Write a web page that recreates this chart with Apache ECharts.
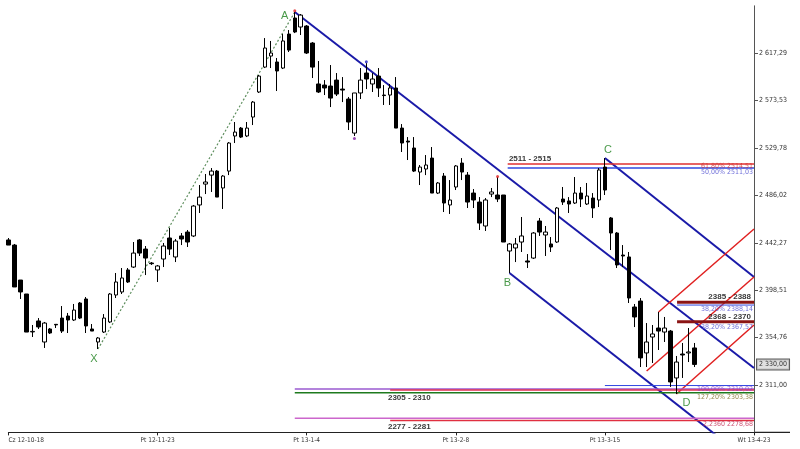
<!DOCTYPE html>
<html><head><meta charset="utf-8">
<script src="https://cdn.jsdelivr.net/npm/echarts@6/dist/echarts.min.js"></script>
<style>html,body{margin:0;padding:0;background:#fff}#c{width:800px;height:449px}</style>
</head><body><div id="c"></div>
<script>
// ---- data ----
const tickLabels = ['Cz 12-10-18','Pt 12-11-23','Pt 13-1-4','Pt 13-2-8','Pt 13-3-15','Wt 13-4-23'];
const barsPerTick = 25;
const yTicks = [2311.00, 2354.76, 2398.51, 2442.27, 2486.02, 2529.78, 2573.53, 2617.29];

const open = [2444.9,2440.2,2407.9,2395.0,2360.0,2370.1,2350.7,2362.7,2367.0,2372.8,
2374.7,2371.0,2386.7,2390.4,2362.7,2350.7,2359.9,2369.2,2394.1,2396.9,
2417.2,2419.9,2444.9,2436.5,2423.6,2417.2,2427.3,2446.7,2429.2,2448.6,
2452.2,2448.6,2477.2,2496.5,2504.8,2508.5,2492.9,2508.5,2540.9,2548.2,
2540.9,2558.4,2581.5,2604.5,2614.7,2609.2,2603.6,2635.0,2649.8,2641.5,
2642.4,2626.7,2588.9,2587.9,2587.0,2592.5,2584.2,2575.0,2543.6,2580.6,
2599.0,2588.9,2596.2,2578.7,2578.7,2585.2,2548.2,2536.2,2529.8,2507.6,
2510.4,2520.5,2488.2,2503.9,2477.2,2493.8,2515.9,2504.8,2488.2,2479.9,
2457.8,2487.3,2486.4,2486.4,2434.7,2437.5,2443.0,2425.5,2428.2,2462.4,
2449.5,2441.2,2443.0,2482.7,2480.9,2479.0,2488.2,2478.1,2483.6,2481.8,
2512.2,2465.2,2451.3,2431.0,2429.2,2383.0,2388.5,2340.6,2355.3,2363.6,
2359.9,2360.8,2317.5,2339.6,2340.6,2345.2];
const close = [2440.2,2401.5,2396.9,2359.9,2360.5,2364.6,2368.2,2359.0,2366.5,2360.8,
2371.0,2380.2,2372.8,2365.5,2360.8,2354.4,2372.8,2395.0,2406.1,2409.8,
2406.1,2432.8,2432.8,2428.2,2423.0,2420.9,2439.3,2436.5,2443.9,2445.8,
2443.0,2476.2,2484.5,2498.4,2508.5,2484.5,2503.9,2534.4,2544.5,2539.9,
2548.2,2572.2,2596.2,2622.1,2617.5,2600.9,2628.6,2620.2,2636.9,2652.5,
2617.5,2604.5,2581.5,2585.2,2575.9,2579.6,2583.3,2553.8,2580.6,2592.5,
2593.5,2593.5,2585.2,2578.2,2585.2,2548.2,2534.4,2535.3,2508.5,2512.2,
2514.1,2488.2,2497.5,2479.0,2481.8,2513.2,2507.6,2479.9,2481.8,2460.5,
2481.8,2489.2,2482.7,2443.0,2441.2,2441.2,2448.6,2424.5,2451.3,2452.2,
2452.2,2438.4,2474.4,2479.9,2478.1,2488.2,2482.7,2485.5,2474.4,2509.5,
2491.0,2451.3,2421.8,2430.1,2391.3,2373.8,2336.0,2350.7,2358.1,2360.8,
2363.6,2313.8,2332.2,2338.7,2341.5,2330.0];
const low = [2440.2,2401.5,2390.4,2359.9,2355.3,2362.7,2345.2,2358.1,2363.6,2359.0,
2359.0,2370.1,2371.9,2359.0,2360.8,2344.2,2359.0,2368.2,2391.3,2395.0,
2405.2,2419.0,2430.1,2412.5,2421.8,2406.1,2419.9,2431.0,2424.5,2440.2,
2438.4,2447.6,2469.8,2487.3,2489.2,2484.5,2473.5,2504.8,2534.4,2539.0,
2539.9,2551.0,2580.6,2603.6,2603.6,2582.4,2602.7,2618.4,2635.9,2634.1,
2616.6,2594.4,2580.6,2578.7,2567.6,2577.8,2572.2,2546.4,2540.9,2575.0,
2584.2,2581.5,2576.9,2569.5,2569.5,2548.2,2526.1,2518.7,2507.6,2495.6,
2504.8,2488.2,2487.3,2470.7,2468.9,2491.0,2500.2,2474.4,2474.4,2454.1,
2453.2,2484.5,2479.9,2443.0,2414.4,2424.5,2433.8,2419.0,2427.3,2448.6,
2430.1,2433.8,2442.1,2477.2,2469.8,2478.1,2475.3,2477.2,2465.2,2475.3,
2486.4,2435.6,2419.0,2419.9,2386.7,2364.5,2327.6,2327.6,2331.3,2343.3,
2350.7,2309.2,2302.7,2317.5,2332.2,2327.6];
const high = [2446.7,2441.2,2407.9,2395.0,2366.4,2372.8,2369.2,2363.6,2367.3,2383.9,
2377.5,2385.8,2387.6,2392.2,2367.3,2355.3,2376.5,2395.9,2414.4,2419.0,
2419.0,2443.0,2445.8,2439.3,2424.5,2421.8,2442.1,2456.0,2445.8,2451.3,
2454.1,2477.2,2495.6,2505.8,2511.3,2509.5,2504.8,2535.3,2553.8,2549.2,
2553.8,2573.2,2597.2,2631.3,2628.6,2612.9,2635.0,2638.7,2655.3,2653.5,
2643.3,2627.6,2610.1,2592.5,2606.4,2599.0,2595.3,2576.9,2580.6,2603.6,
2608.2,2599.0,2603.6,2587.9,2588.9,2595.3,2551.9,2539.9,2539.9,2514.1,
2523.3,2530.7,2498.4,2506.7,2500.2,2514.1,2520.5,2507.6,2491.9,2484.5,
2483.6,2492.9,2503.0,2486.4,2442.1,2446.7,2466.1,2431.9,2452.2,2465.2,
2457.8,2447.6,2475.3,2493.8,2484.5,2503.0,2493.8,2497.5,2488.2,2511.3,
2520.5,2466.1,2452.2,2440.2,2433.8,2385.8,2391.3,2368.2,2366.4,2378.4,
2373.8,2361.8,2337.8,2349.8,2363.6,2349.8];

// drawings: [barIndex, price]
const dotXA     = [[15, 2344.2], [48, 2655.3]];
const trendA    = [[48, 2655.3], [125, 2326.7]];
const trendB    = [[84, 2414.4], [125, 2237.2]];
const trendC    = [[100, 2520.5], [125, 2410.7]];
const redUpper  = [[109, 2378.4], [125, 2455.0]];
const redMiddle = [[107, 2323.9], [125, 2410.7]];
const redLower  = [[112, 2302.7], [125, 2366.4]];
// horizontal levels: [startIndex, price, color, width]
const levels = [
  [83.7, 2515.0, '#e03030', 1.5],
  [83.7, 2511.3, '#3048e0', 1.5],
  [112.1, 2387.5, '#8b1414', 3],
  [112.1, 2384.8, '#3048e0', 1],
  [112.1, 2369.3, '#8b1414', 3],
  [100, 2310.5, '#3048e0', 1],
  [48, 2307.3, '#9a5ad0', 1.5],
  [64, 2306.4, '#e03050', 1.5],
  [48, 2303.9, '#1e7a1e', 1.5],
  [48, 2280.3, '#cc66cc', 1.5],
  [64, 2278.2, '#e03040', 1.5]
];
const pivots = [['X', 15, 2344.2], ['A', 48, 2655.3], ['B', 84, 2414.4], ['C', 100, 2520.5], ['D', 112, 2302.7]];
const pivotOffsets = {X: [-4, 10], A: [-10, 4], B: [-2, 10], C: [3, -8], D: [10, 9]};
const zoneLabels = [
  ['2511 - 2515', 83.9, 2516.0, 'left', 'bottom'],
  ['2385 - 2388', 125, 2388.6, 'right', 'bottom'],
  ['2368 - 2370', 125, 2370.4, 'right', 'bottom'],
  ['2305 - 2310', 67.2, 2303.0, 'center', 'top'],
  ['2277 - 2281', 67.2, 2276.4, 'center', 'top']
];
const fibLabels = [
  ['61,80% 2514,51', 2513.4, '#d03030'],
  ['50,00% 2511,03', 2507.2, '#4a4ad0'],
  ['38,20% 2388,14', 2381.2, '#4a4ad0'],
  ['38,20% 2367,57', 2364.6, '#4a4ad0'],
  ['100,00% 2310,02', 2307.0, '#8a40c8'],
  ['127,20% 2303,38', 2299.9, '#7a6a20'],
  ['2,2360 2278,68', 2275.0, '#c02850']
];
const dots = [[48, 2656.5, '#e02020'], [82, 2503.5, '#e02020'], [60, 2609.5, '#2020c0'], [58, 2538.5, '#8020a0']];

// ---- chart ----
const N = barsPerTick * (tickLabels.length - 1) + 1;
const cats = Array.from({length: N}, (_, i) => i % barsPerTick === 0 ? tickLabels[i / barsPerTick] : '');
const candles = open.map((o, i) => [o, close[i], low[i], high[i]]);
const yMin = yTicks[0] - (yTicks[1] - yTicks[0]);
const yMax = yMin + 9 * (yTicks[1] - yTicks[0]);
const lastClose = close[close.length - 1];
const fmt = v => { const s = v.toFixed(2).split('.'); return s[0].replace(/\B(?=(\d{3})+(?!\d))/g, ' ') + ',' + s[1]; };
const NARROW = "'Liberation Sans Narrow','DejaVu Sans Condensed','Liberation Sans',sans-serif";

function line(data, color, width, type) {
  return {type: 'line', xAxisIndex: 1, data: data, symbol: 'none', silent: true, clip: true,
    lineStyle: {color: color, width: width, type: type || 'solid'}, z: 3};
}
const series = [{
  type: 'candlestick', data: candles, barWidth: 4, z: 4,
  itemStyle: {color: '#ffffff', color0: '#000000', borderColor: '#000000', borderColor0: '#000000', borderWidth: 1}
}];
series.push(line(dotXA, '#5f8f5f', 1.2, [2, 2]));
series.push(line(trendA, '#1a1aa8', 2));
series.push(line(trendB, '#1a1aa8', 2));
series.push(line(trendC, '#1a1aa8', 2));
series.push(line(redUpper, '#e02020', 1.5));
series.push(line(redMiddle, '#e02020', 1.5));
series.push(line(redLower, '#e02020', 1.5));
levels.forEach(l => series.push(line([[l[0], l[1]], [N - 1, l[1]]], l[2], l[3])));
series.push({type: 'scatter', xAxisIndex: 1, symbolSize: 3, silent: true, z: 6,
  data: dots.map(d => ({value: [d[0], d[1]], itemStyle: {color: d[2]}}))});
series.push({type: 'scatter', xAxisIndex: 1, symbolSize: 0, silent: true, z: 7,
  data: pivots.map(p => ({name: p[0], value: [p[1], p[2]],
    label: {show: true, position: 'inside', offset: pivotOffsets[p[0]], formatter: '{b}',
      color: '#1c7f1c', fontSize: 11, fontFamily: "'Liberation Sans',Arial,sans-serif"}}))});
series.push({type: 'scatter', xAxisIndex: 1, symbolSize: 0, silent: true, z: 7,
  data: zoneLabels.map(z => ({name: z[0], value: [z[1], z[2]],
    label: {show: true, position: 'inside', offset: [z[3] === 'right' ? -3 : 0, 0], formatter: '{b}', align: z[3], verticalAlign: z[4],
      color: '#000', fontSize: 8, fontWeight: 'bold', fontFamily: "'Liberation Sans',Arial,sans-serif"}}))});
series.push({type: 'scatter', xAxisIndex: 1, symbolSize: 0, silent: true, z: 7,
  data: fibLabels.map(f => ({name: f[0], value: [N - 1, f[1]],
    label: {show: true, position: 'inside', offset: [-1, 0], formatter: '{b}', align: 'right', verticalAlign: 'middle',
      color: f[2], fontSize: 7, fontFamily: NARROW}}))});
// current price box on the axis
series.push({type: 'scatter', xAxisIndex: 1, symbolSize: 0, silent: true, clip: false, z: 8,
  data: [{name: fmt(lastClose), value: [N - 1, lastClose]}],
  label: {show: true, position: 'right', distance: 3, formatter: '{b}', fontSize: 7, color: '#000',
    backgroundColor: '#d8d8d8', borderColor: '#333', borderWidth: 1, padding: [2, 2, 1, 2], fontFamily: NARROW}});

const chart = echarts.init(document.getElementById('c'), null, {renderer: 'canvas'});
chart.setOption({
  animation: false,
  backgroundColor: '#ffffff',
  grid: {left: 8.5, right: 46, top: 5.8, bottom: 16.6, containLabel: false, outerBoundsMode: 'none'},
  xAxis: [{
    type: 'category', data: cats, boundaryGap: false,
    axisLine: {onZero: false, lineStyle: {color: '#222', width: 1.2}},
    axisTick: {interval: (i, v) => v !== '', length: 3, lineStyle: {color: '#222'}},
    axisLabel: {interval: (i, v) => v !== '', fontSize: 6.5, color: '#333', margin: 4, alignMinLabel: 'left', fontFamily: NARROW},
    splitLine: {show: false}
  }, {type: 'value', min: 0, max: N - 1, show: false}],
  yAxis: {
    type: 'value', position: 'right', min: yMin, max: yMax, scale: true,
    axisLine: {show: true, onZero: false, lineStyle: {color: '#555', width: 1}},
    axisTick: {show: true, length: 4, customValues: yTicks, lineStyle: {color: '#555'}},
    axisLabel: {customValues: yTicks, formatter: v => fmt(v), fontSize: 7, color: '#333', margin: 5, fontFamily: NARROW},
    splitLine: {show: false}
  },
  series: series
});
// extend the time axis line past the price axis, as in the original
const ax = chart.convertToPixel({xAxisIndex: 1, yAxisIndex: 0}, [N - 1, yMin]);
chart.setOption({graphic: [{type: 'line', silent: true, shape: {x1: ax[0], y1: ax[1], x2: ax[0] + 36, y2: ax[1]},
  style: {stroke: '#222', lineWidth: 1.2}}]});
</script></body></html>
